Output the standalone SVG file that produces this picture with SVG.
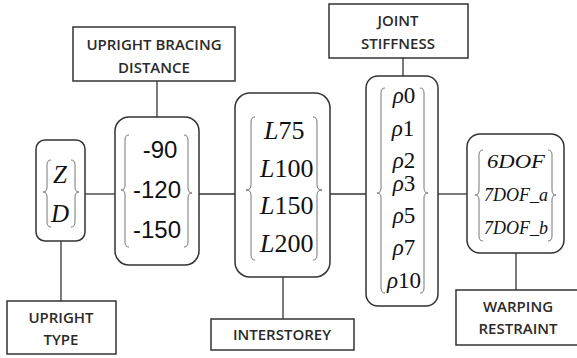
<svg xmlns="http://www.w3.org/2000/svg" width="577" height="358" viewBox="0 0 577 358">
<style>
.lbl{fill:#fff;stroke:#333;stroke-width:1.5}
.nb{fill:#fff;stroke:#333;stroke-width:1.5}
.br{fill:none;stroke:#777;stroke-width:1}
.con{stroke:#333;stroke-width:1.3;fill:none}
.lt{font-family:"Open Sans","Liberation Sans",sans-serif;font-size:15px;font-weight:600;fill:#2a2a2a;text-anchor:middle}
.ar{font-family:"Liberation Sans",Arial,sans-serif;font-size:24px;fill:#111;text-anchor:middle}
.mt{font-family:"Liberation Serif","Times New Roman",serif;fill:#111;text-anchor:middle}
.ms{font-family:"Liberation Serif","Times New Roman",serif;fill:#111;text-anchor:start}
.it{font-style:italic}
</style>
<rect width="577" height="358" fill="#fff"/>
<g id="connectors">
<line class="con" x1="85" y1="194" x2="115" y2="194"/>
<line class="con" x1="199" y1="194" x2="235" y2="194"/>
<line class="con" x1="330" y1="194" x2="366" y2="194"/>
<line class="con" x1="438" y1="194" x2="467" y2="194"/>
<line class="con" x1="157" y1="81" x2="157" y2="117"/>
<line class="con" x1="61" y1="241" x2="61" y2="301"/>
<line class="con" x1="283" y1="277" x2="283" y2="319"/>
<line class="con" x1="403" y1="58" x2="403" y2="76"/>
<line class="con" x1="516" y1="253" x2="516" y2="290"/>
</g>
<g id="upright-bracing-distance">
<rect class="lbl" x="73" y="27" width="162" height="54"/>
<text class="lt" x="154" y="50">UPRIGHT BRACING</text>
<text class="lt" x="154" y="73">DISTANCE</text>
</g>
<g id="joint-stiffness">
<rect class="lbl" x="329" y="4" width="139" height="54"/>
<text class="lt" x="398" y="26">JOINT</text>
<text class="lt" x="398" y="49">STIFFNESS</text>
</g>
<g id="upright-type">
<rect class="lbl" x="7" y="301" width="109" height="53"/>
<text class="lt" x="61" y="323">UPRIGHT</text>
<text class="lt" x="61" y="345">TYPE</text>
</g>
<g id="interstorey">
<rect class="lbl" x="211" y="319" width="143" height="31"/>
<text class="lt" x="282" y="340">INTERSTOREY</text>
</g>
<g id="warping-restraint">
<rect class="lbl" x="456" y="290" width="125" height="55"/>
<text class="lt" x="518" y="312">WARPING</text>
<text class="lt" x="518" y="334">RESTRAINT</text>
</g>
<g id="upright-type-values">
<rect class="nb" x="36" y="140" width="49" height="101" rx="9"/>
<path class="br" d="M51,160 Q47,160 47,165 L47,187 Q47,192 43,192 Q47,192 47,197 L47,222 Q47,227 51,227"/>
<path class="br" d="M71,160 Q75,160 75,165 L75,187 Q75,192 79,192 Q75,192 75,197 L75,222 Q75,227 71,227"/>
<text class="mt it" x="60" y="183" font-size="25">Z</text>
<text class="mt it" x="60" y="222" font-size="25">D</text>
</g>
<g id="bracing-values">
<rect class="nb" x="115" y="117" width="84" height="148" rx="14"/>
<path class="br" d="M129,135 Q125,135 125,140 L125,185 Q125,190 121,190 Q125,190 125,195 L125,242 Q125,247 129,247"/>
<path class="br" d="M184,135 Q188,135 188,140 L188,188 Q188,193 192,193 Q188,193 188,198 L188,242 Q188,247 184,247"/>
<text class="ar" x="160" y="158">-90</text>
<text class="ar" x="157" y="198">-120</text>
<text class="ar" x="157" y="238">-150</text>
</g>
<g id="interstorey-values">
<rect class="nb" x="235" y="93" width="95" height="184" rx="15"/>
<path class="br" d="M255,117 Q251,117 251,122 L251,185 Q251,190 246,190 Q251,190 251,195 L251,255 Q251,260 255,260"/>
<path class="br" d="M313,117 Q317,117 317,122 L317,185 Q317,190 322,190 Q317,190 317,195 L317,255 Q317,260 313,260"/>
<g class="ms" font-size="26">
<text x="264" y="139"><tspan class="it">L</tspan>75</text>
<text x="260" y="177"><tspan class="it">L</tspan>100</text>
<text x="260" y="214"><tspan class="it">L</tspan>150</text>
<text x="260" y="252"><tspan class="it">L</tspan>200</text>
</g>
</g>
<g id="joint-stiffness-values">
<rect class="nb" x="366" y="76" width="72" height="230" rx="12"/>
<path class="br" d="M385,88 Q381,88 381,93 L381,188 Q381,193 377,193 Q381,193 381,198 L381,288 Q381,293 385,293"/>
<path class="br" d="M420,88 Q424,88 424,93 L424,188 Q424,193 428,193 Q424,193 424,198 L424,288 Q424,293 420,293"/>
<g class="mt" font-size="23">
<text x="404" y="103"><tspan class="it">ρ</tspan>0</text>
<text x="403" y="136"><tspan class="it">ρ</tspan>1</text>
<text x="404" y="168"><tspan class="it">ρ</tspan>2</text>
<text x="404" y="191"><tspan class="it">ρ</tspan>3</text>
<text x="404" y="223"><tspan class="it">ρ</tspan>5</text>
<text x="404" y="255"><tspan class="it">ρ</tspan>7</text>
<text x="404" y="288"><tspan class="it">ρ</tspan>10</text>
</g>
</g>
<g id="warping-values">
<rect class="nb" x="467" y="134" width="97" height="119" rx="13"/>
<path class="br" d="M483,150 Q479,150 479,155 L479,190 Q479,195 475,195 Q479,195 479,200 L479,236 Q479,241 483,241"/>
<path class="br" d="M548,150 Q552,150 552,155 L552,190 Q552,195 556,195 Q552,195 552,200 L552,236 Q552,241 548,241"/>
<g class="mt it" font-size="19">
<text x="516" y="168" textLength="58" lengthAdjust="spacingAndGlyphs">6DOF</text>
<text x="516" y="201" textLength="64" lengthAdjust="spacingAndGlyphs">7DOF_a</text>
<text x="516" y="234" textLength="64" lengthAdjust="spacingAndGlyphs">7DOF_b</text>
</g>
</g>
</svg>
